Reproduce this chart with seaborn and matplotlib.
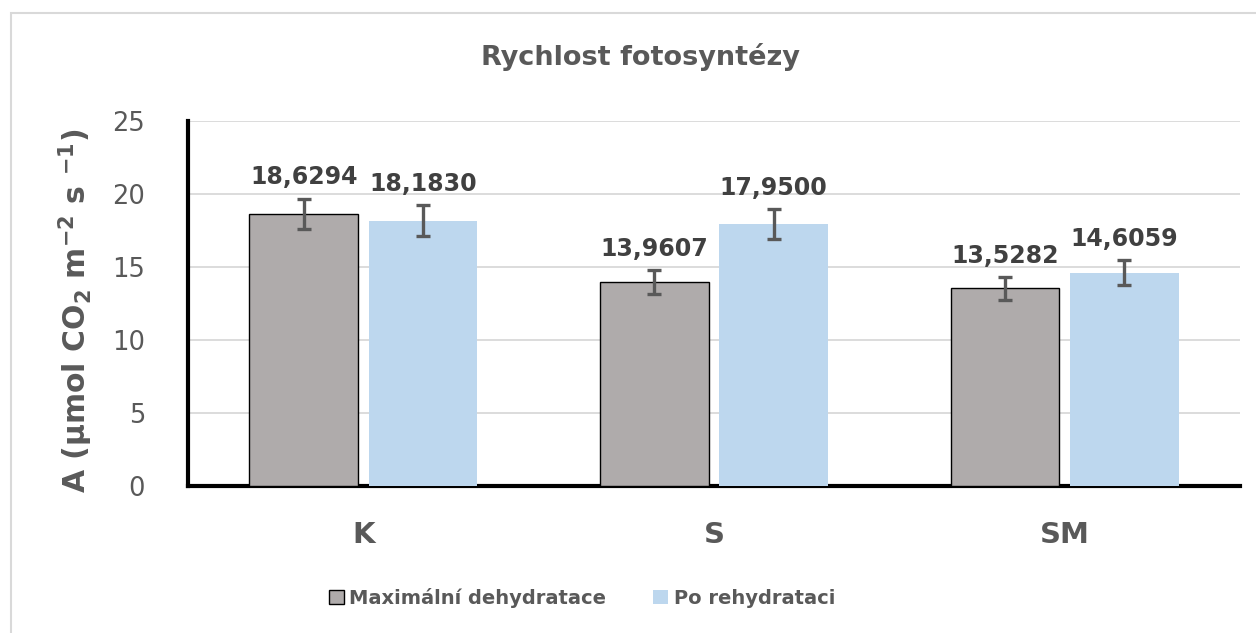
import pandas as pd
import matplotlib.pyplot as plt
import matplotlib.patches as mpatches
import seaborn as sns

# values
categories = ['K', 'S', 'SM']
series_names = ['Maximální dehydratace', 'Po rehydrataci']
dehydr_vals = [18.6294, 13.9607, 13.5282]
rehydr_vals = [18.1830, 17.9500, 14.6059]
dehydr_err = [1.05, 0.80, 0.76]
rehydr_err = [1.03, 1.00, 0.85]
value_labels_dehydr = ['18,6294', '13,9607', '13,5282']
value_labels_rehydr = ['18,1830', '17,9500', '14,6059']
yticks = [0, 5, 10, 15, 20, 25]

df = pd.DataFrame({
    'cat': categories * 2,
    'series': [series_names[0]] * 3 + [series_names[1]] * 3,
    'A': dehydr_vals + rehydr_vals,
})

sns.set_style("white")
plt.rcParams['font.family'] = ['DejaVu Sans']
plt.rcParams['mathtext.fontset'] = 'dejavusans'

grey = '#AFABAB'
blue = '#BDD7EE'
txt = '#595959'

fig = plt.figure(figsize=(12.56, 6.33), dpi=100)
ax = fig.add_axes([188 / 1256, 1 - 486 / 633, (1240 - 188) / 1256, (486 - 121) / 633])

sns.barplot(data=df, x='cat', y='A', hue='series', order=categories, hue_order=series_names,
            palette=[grey, blue], width=0.68, gap=0.09, errorbar=None, legend=False,
            saturation=1, ax=ax, zorder=3)

# grey bars have a thin black outline
for p in ax.containers[0]:
    p.set_edgecolor('black')
    p.set_linewidth(1.0)
for p in ax.containers[1]:
    p.set_linewidth(0)

for cont, vals, errs, labs in zip(ax.containers, [dehydr_vals, rehydr_vals],
                                  [dehydr_err, rehydr_err],
                                  [value_labels_dehydr, value_labels_rehydr]):
    xs = [p.get_x() + p.get_width() / 2 for p in cont]
    ax.errorbar(xs, vals, yerr=errs, fmt='none', ecolor=txt, elinewidth=2.4,
                capsize=4.8, capthick=2.4, zorder=4)
    for x, v, e, lab in zip(xs, vals, errs, labs):
        ax.annotate(lab, (x, v + e), xytext=(0, 7), textcoords='offset points',
                    ha='center', va='bottom', fontsize=17, fontweight='bold', color='#404040')

ax.set_ylim(0, 25)
ax.set_xlim(-0.5, 2.5)
ax.set_yticks(yticks)
ax.yaxis.grid(True, color='#D9D9D9', linewidth=1.3, zorder=0)
ax.set_axisbelow(True)
for s in ['top', 'right']:
    ax.spines[s].set_visible(False)
ax.spines['left'].set_linewidth(3)
ax.spines['bottom'].set_linewidth(3)
ax.spines['left'].set_color('black')
ax.spines['bottom'].set_color('black')

ax.tick_params(axis='y', length=0, pad=31, labelsize=18.5, labelcolor=txt)
ax.tick_params(axis='x', length=0, pad=25, labelsize=21, labelcolor=txt)
for t in ax.get_xticklabels():
    t.set_fontweight('bold')

ax.set_xlabel('')
ax.set_ylabel(r'A (µmol CO$_\mathbf{2}$ m$^\mathbf{-2}$ s $^\mathbf{-1}$)', fontsize=21.5,
              fontweight='bold', color=txt)
ax.yaxis.set_label_coords(-0.088, 0.48)

fig.text(640 / 1256, 1 - 57 / 633, 'Rychlost fotosyntézy', ha='center', va='center',
         fontsize=19.5, fontweight='bold', color=txt)

handles = [mpatches.Patch(facecolor=grey, edgecolor='black', linewidth=1.0),
           mpatches.Patch(facecolor=blue, edgecolor='none')]
fig.legend(handles, series_names, loc='center', bbox_to_anchor=(582 / 1256, 1 - 598 / 633),
           ncol=2, frameon=False, handlelength=0.75, handleheight=0.75, handletextpad=0.3,
           columnspacing=2.4, prop={'size': 14, 'weight': 'bold'}, labelcolor=txt)

# light chart border, cropped at right and bottom as in the reference
fig.patches.append(mpatches.Rectangle((11 / 1256, -0.1), 1.2, 1.1 - 13 / 633,
                                      transform=fig.transFigure, fill=False,
                                      edgecolor='#D9D9D9', linewidth=1.5))

fig.savefig('out.png', dpi=100)
